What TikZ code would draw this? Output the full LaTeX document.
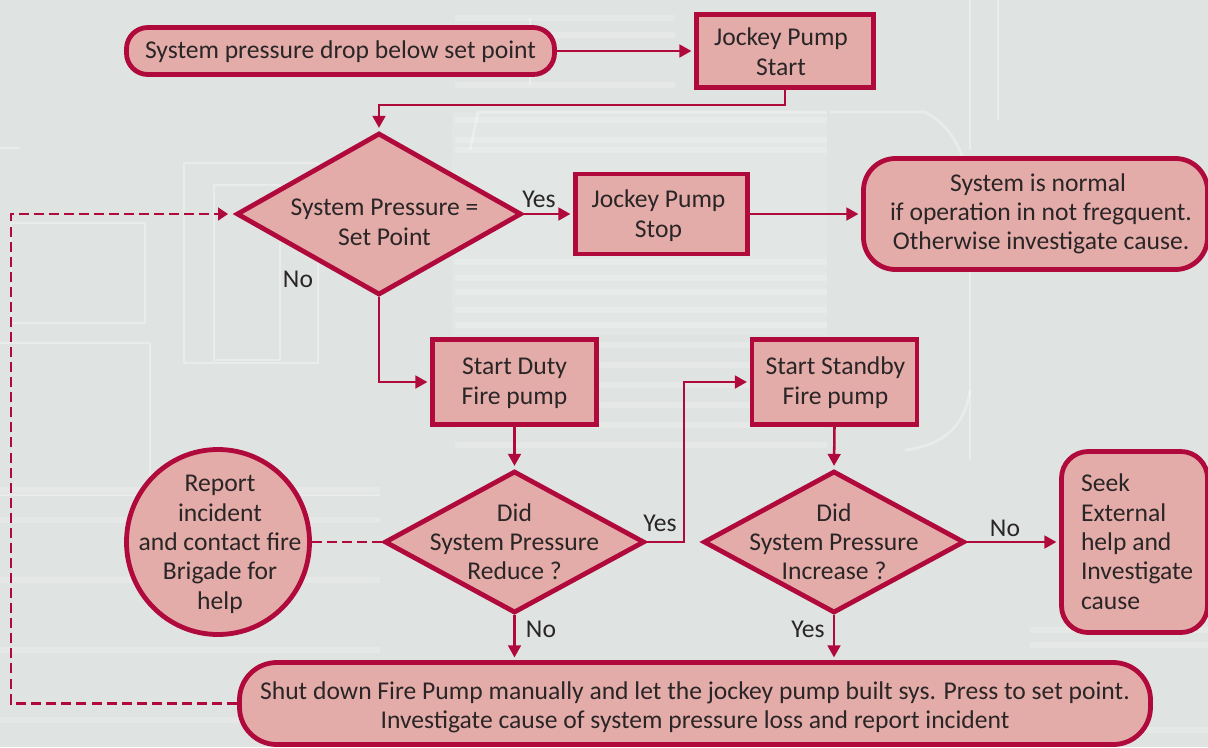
\documentclass[tikz,border=0pt]{standalone}
\usepackage{fontspec}
\setmainfont{Carlito}
\usetikzlibrary{shapes.geometric,arrows.meta}
\definecolor{bgc}{HTML}{DFE3E2}
\definecolor{fillc}{HTML}{E4ACA9}
\definecolor{linec}{HTML}{B00A3C}
\definecolor{txtc}{HTML}{2A2526}
\newlength\pxu \setlength\pxu{0.75pt}
% centred / left-set text that does not influence the shape's size; offsets in reference pixels
\newcommand{\shtext}[3]{\makebox[0pt]{\kern#1\pxu\smash{\raisebox{\dimexpr-6.4pt-#2\pxu\relax}{\begin{tabular}{@{}c@{}}#3\end{tabular}}}\kern-#1\pxu}}
\newcommand{\lstext}[3]{\makebox[0pt][l]{\kern#1\pxu\smash{\raisebox{\dimexpr-6.4pt-#2\pxu\relax}{\begin{tabular}{@{}l@{}}#3\end{tabular}}}}}
\tikzset{
  x=0.75pt,y=-0.75pt,
  every node/.style={text=txtc,font=\fontsize{19.2pt}{22pt}\selectfont,inner sep=0pt},
  shapebox/.style={draw=linec,fill=fillc,line width=3.6pt,outer sep=1.8pt},
  rectbox/.style={shapebox,rectangle},
  roundbox/.style={shapebox,rectangle,rounded corners=#1},
  dia/.style={shapebox,diamond},
  oval/.style={shapebox,ellipse},
  link/.style={draw=linec,line width=1.9pt,-{Triangle[length=9pt,width=9.5pt]},shorten >=2pt},
  dashlink/.style={draw=linec,line width=2.1pt,dash pattern=on 7.5pt off 3.8pt},
  dasharrow/.style={dashlink,-{Triangle[length=7.5pt,width=9.5pt]},shorten >=4.5pt},
  ghost/.style={draw=white,line width=2pt,opacity=0.35},
  ghostwide/.style={draw=white,line width=5pt,opacity=0.2},
  edgetext/.style={}
}
\begin{document}
\begin{tikzpicture}
\useasboundingbox (0,0) rectangle (1208,747);
\fill[bgc] (0,0) rectangle (1208,747);
% faint backdrop
\fill[white,opacity=0.12] (452,112) rectangle (827,335);
\foreach \y in {120,140,150,262,278,292,310,325,345,365,385,405,425,445}
  \draw[ghostwide] (455,\y) -- (827,\y);
\foreach \y in {18,35,85}
  \draw[ghostwide] (455,\y) -- (675,\y);
\foreach \y in {630,645,730}
  \draw[ghostwide] (1030,\y) -- (1208,\y);
\foreach \y in {490,520,580,650,720}
  \draw[ghostwide] (0,\y) -- (380,\y);
\foreach \x/\a/\b in {970/0/150,970/272/460,998/0/120}
  \draw[ghost] (\x,\a) -- (\x,\b);
\draw[ghost] (184,163) rectangle (318,363);
\draw[ghost] (214,185) rectangle (280,360);
\draw[ghost] (11,223) rectangle (145,323);
\draw[ghost] (0,343) -- (150,343) -- (150,480);
\draw[ghost] (0,148) -- (20,148);
\draw[ghost] (0,495) -- (380,495);
\draw[ghost] (830,112) -- (925,112) .. controls (950,125) and (965,150) .. (970,190);
\draw[ghost] (470,150) -- (478,112) -- (827,112);
\draw[ghost] (970,390) .. controls (965,425) and (945,445) .. (905,450);
\draw[ghost] (530,18) -- (530,85);
% shapes
\node[roundbox=16pt,minimum width=428\pxu,minimum height=47\pxu] (sp) at (340.5,51) {\shtext{0}{0}{System pressure drop below set point}};
\node[rectbox,minimum width=177\pxu,minimum height=73\pxu] (js) at (785,51) {\shtext{-4}{2}{Jockey Pump\\Start}};
\node[dia,minimum width=285\pxu,minimum height=162\pxu] (d1) at (379,214) {\shtext{5.5}{9}{System Pressure =\\Set Point}};
\node[rectbox,minimum width=172\pxu,minimum height=80\pxu] (stop) at (661.5,214) {\shtext{-3}{1}{Jockey Pump\\Stop}};
\node[roundbox=24pt,minimum width=344\pxu,minimum height=111\pxu] (norm) at (1035.5,214) {\shtext{5.5}{-1}{System is normal\ \ \\if operation in not fregquent.\\Otherwise investigate cause.}};
\node[rectbox,minimum width=164\pxu,minimum height=85.5\pxu] (duty) at (514.5,382) {\shtext{0}{0}{Start Duty\\Fire pump}};
\node[rectbox,minimum width=165\pxu,minimum height=85.5\pxu] (stby) at (834.5,382) {\shtext{1}{0}{Start Standby\\Fire pump}};
\node[dia,minimum width=260\pxu,minimum height=142\pxu] (d2) at (514.5,542) {\shtext{0}{1}{Did\\System Pressure\\Reduce ?}};
\node[dia,minimum width=261\pxu,minimum height=142\pxu] (d3) at (834,542) {\shtext{0}{1}{Did\\System Pressure\\Increase ?}};
\node[oval,minimum width=183\pxu,minimum height=185\pxu] (rep) at (218,542) {\shtext{2}{1}{Report\\incident\\and contact fire\\Brigade for\\help}};
\node[roundbox=20pt,minimum width=146\pxu,minimum height=181\pxu] (seek) at (1134.5,542) {\lstext{-53.5}{1}{Seek\\External\\help and\\Investigate\\cause}};
\node[roundbox=28pt,minimum width=911\pxu,minimum height=82\pxu] (bot) at (695,703.5) {\shtext{0}{3}{Shut down Fire Pump manually and let the jockey pump built sys. Press to set point.\\Investigate cause of system pressure loss and report incident}};
% connectors
\coordinate (j1) at (785,105);
\coordinate (j2) at (684,460);
\coordinate (j3) at (11,214);
\draw[link] (sp.east) -- (sp.east -| js.west);
\draw[link] (js.south) -- (j1) -| (d1.north);
\draw[link] (d1.east) -- (d1.east -| stop.west);
\draw[link] (stop.east) -- (stop.east -| norm.west);
\draw[link] (d1.south) |- (duty.west);
\draw[link] (duty.south) -- (d2.north);
\draw[link] (d2.east) -| (j2) |- (stby.west);
\draw[link] (stby.south) -- (d3.north);
\draw[link] (d3.east) -- (d3.east -| seek.west);
\draw[link] (d2.south) -- (d2.south |- bot.north);
\draw[link] (d3.south) -- (d3.south |- bot.north);
\draw[dashlink] (rep.east) -- (d2.west);
\draw[dasharrow] (bot.west) -| (j3) -- (d1.west);
\node[edgetext] (y1) at (539,199) {Yes};
\node[edgetext] (n1) at (298,279) {No};
\node[edgetext] (y2) at (660,523) {Yes};
\node[edgetext] (n2) at (541,629) {No};
\node[edgetext] (y3) at (808,629) {Yes};
\node[edgetext] (n3) at (1005,528) {No};
\end{tikzpicture}
\end{document}
